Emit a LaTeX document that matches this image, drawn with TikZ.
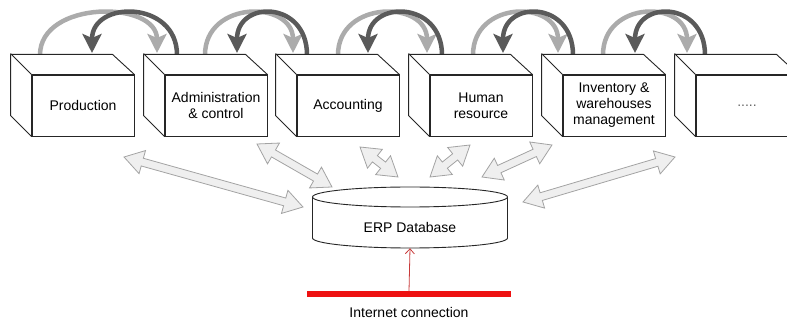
\documentclass[tikz,border=0pt]{standalone}
\usepackage{fontspec}
\setmainfont{Liberation Sans}
\usetikzlibrary{arrows.meta,calc}
\definecolor{lightarc}{HTML}{ABABAB}
\definecolor{darkarc}{HTML}{5A5A5A}
\definecolor{blockfill}{HTML}{EFEFEF}
\definecolor{blockdraw}{HTML}{A3A3A3}
\definecolor{netred}{HTML}{EE1111}
\definecolor{arrred}{HTML}{C83A3A}
\tikzset{
  face/.style={draw=black!85, fill=white, line width=0.9pt, minimum width=102pt, minimum height=61pt,
    inner sep=0pt, align=center, font=\fontsize{14}{16}\selectfont},
  sideline/.style={draw=black!85, fill=white, line width=0.9pt, line join=round},
  lightflow/.style={draw=lightarc, line width=4.5pt, -{Stealth[length=19pt,width=19pt,inset=4pt]}},
  darkflow/.style={draw=darkarc, line width=4.5pt, -{Stealth[length=19pt,width=19pt,inset=4pt]}},
  blockarr/.style={fill=blockfill, draw=blockdraw, line width=0.8pt, line join=miter},
  dbshape/.style={draw=black!85, fill=white, line width=0.9pt},
  dbtext/.style={minimum width=195pt, minimum height=41pt, inner sep=0pt, font=\fontsize{14}{16}\selectfont},
  netbar/.style={fill=netred, minimum width=204pt, minimum height=6pt, inner sep=0pt},
  redarrow/.style={draw=arrred, line width=0.8pt, -{Straight Barb[length=5pt,width=9pt]}},
  lbl/.style={font=\fontsize{14}{16}\selectfont, inner sep=0pt}
}
\newcommand\erpbox[3]{%
  \node[face] (#1) at (#2,105.5) {#3};
  \path[sideline] (#1.south west) -- ++(-21,-21) -- ++(0,-61) -- ++(102,0) -- (#1.north east) -- (#1.north west) -- cycle;
  \draw[sideline] (#1.north west) -- ++(-21,-21);}
\newcommand\dblarrow[2]{%
  \path[blockarr] let \p1=($(#2)-(#1)$), \n1={atan2(\y1,\x1)}, \n2={veclen(\x1,\y1)} in
  [shift={(#1)}, rotate=\n1] (0pt,0pt) -- (19pt,12pt) -- (19pt,4pt) -- (\n2-19pt,4pt) -- (\n2-19pt,12pt)
  -- (\n2+0pt,0pt) -- (\n2-19pt,-12pt) -- (\n2-19pt,-4pt) -- (19pt,-4pt) -- (19pt,-12pt) -- cycle;}
\begin{document}
\begin{tikzpicture}[x=1pt,y=-1pt]
\useasboundingbox (0,0) rectangle (787,320);
\clip (0,0) rectangle (787,320);
% flow arcs between neighbouring modules
\foreach \i/\la/\lb/\da/\db in {1/40/157/177/92, 2/205/293/307/237, 3/338/427/442/368, 4/473/558/573/503, 5/603/687/705/635} {
  \coordinate (ls\i) at (\la,55);
  \coordinate (le\i) at (\lb,53);
  \coordinate (ds\i) at (\da,55);
  \coordinate (de\i) at (\db,53);
  \draw[lightflow] (ls\i) .. controls (\la,0) and (\lb,0) .. (le\i);
  \draw[darkflow] (ds\i) .. controls (\da,0) and (\db,0) .. (de\i);
}
% modules
\erpbox{b1}{83}{Production}
\erpbox{b2}{216}{Administration\\\& control}
\erpbox{b3}{348}{Accounting}
\erpbox{b4}{481}{Human\\resource}
\erpbox{b5}{614}{Inventory \&\\warehouses\\management}
\erpbox{b6}{747}{\textcolor{black!60}{.....}}
% database
\path[dbshape] (312.5,197) -- (312.5,238) arc[start angle=180,end angle=0,x radius=97.5,y radius=10]
  -- (507.5,197) arc[start angle=0,end angle=-180,x radius=97.5,y radius=10] -- cycle;
\draw[dbshape] (312.5,197) arc[start angle=180,end angle=0,x radius=97.5,y radius=10];
\node[dbtext] (db) at (410,227.5) {ERP Database};
% block arrows
\coordinate (a1) at (124,157); \coordinate (a2) at (303,207);
\coordinate (b1e) at (257,144); \coordinate (b2e) at (332,187);
\coordinate (c1) at (360,147); \coordinate (c2) at (398,177);
\coordinate (d1) at (430,177); \coordinate (d2) at (470,145);
\coordinate (e1) at (482,177); \coordinate (e2) at (552,145);
\coordinate (f1) at (523,202); \coordinate (f2) at (675,157);
\dblarrow{a1}{a2}
\dblarrow{b1e}{b2e}
\dblarrow{c1}{c2}
\dblarrow{d1}{d2}
\dblarrow{e1}{e2}
\dblarrow{f1}{f2}
% internet
\node[netbar] (net) at (409,294.5) {};
\draw[redarrow] (net.north) -- (db.south);
\node[lbl] (netlbl) at (409,312) {Internet connection};
\end{tikzpicture}
\end{document}
